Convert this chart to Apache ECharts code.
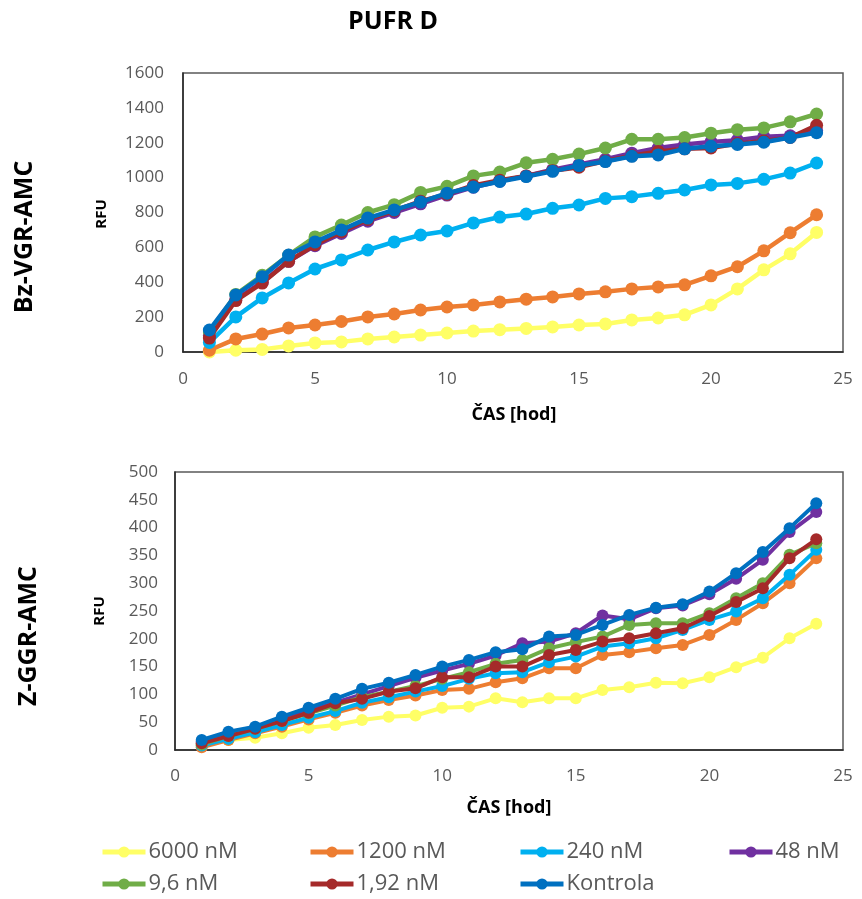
<!DOCTYPE html>
<html>
<head>
<meta charset="utf-8">
<script src="https://cdn.jsdelivr.net/npm/echarts@6/dist/echarts.min.js"></script>
<style>
html,body{margin:0;padding:0;background:#fff;}
#chart{width:862px;height:899px;}
</style>
</head>
<body>
<div id="chart"></div>
<script>
// ---- data ----
var hours = [1,2,3,4,5,6,7,8,9,10,11,12,13,14,15,16,17,18,19,20,21,22,23,24];
var seriesNames = ['6000 nM','1200 nM','240 nM','48 nM','9,6 nM','1,92 nM','Kontrola'];
var seriesColors = ['#FFFF66','#ED7D31','#00B0F0','#7030A0','#70AD47','#A52A2A','#0070C0'];

// Bz-VGR-AMC (top)
var top6000 = [0,10,15,35,52,58,75,86,97,109,120,128,135,144,155,161,184,195,213,270,362,471,563,686];
var top1200 = [10,75,103,138,155,175,201,218,241,258,270,287,303,316,333,345,362,373,385,437,489,580,684,787];
var top240  = [55,201,310,396,476,528,585,631,671,694,740,774,791,824,843,881,891,910,929,958,967,990,1026,1084];
var top48   = [95,300,400,520,610,680,750,800,850,900,945,980,1010,1045,1075,1105,1140,1170,1190,1205,1215,1235,1240,1270];
var top96   = [115,330,440,555,660,728,800,845,915,950,1010,1032,1085,1105,1135,1170,1220,1220,1230,1255,1275,1285,1320,1365];
var top192  = [80,295,395,520,615,690,760,810,865,905,955,985,1010,1040,1060,1095,1125,1150,1165,1170,1195,1210,1230,1300];
var topK    = [126,327,432,556,631,700,768,815,860,911,946,978,1006,1036,1069,1092,1122,1130,1165,1180,1190,1203,1230,1258];

// Z-GGR-AMC (bottom)
var bot6000 = [8,18,22,30,40,45,54,60,62,76,78,93,86,93,93,108,113,121,120,131,149,166,201,227];
var bot1200 = [5,18,30,42,55,67,80,90,98,108,110,122,129,147,147,171,176,183,189,207,234,264,300,345];
var bot240  = [8,20,32,45,58,70,85,95,105,115,128,138,140,158,168,186,192,201,216,234,249,273,315,360];
var bot48   = [15,28,40,55,70,85,100,115,130,143,155,170,192,195,210,242,235,255,260,280,308,342,392,428];
var bot96   = [10,25,38,52,66,80,95,105,115,128,140,155,162,183,194,204,225,228,228,246,273,300,351,372];
var bot192  = [12,25,38,52,67,84,92,105,111,131,131,150,150,171,180,195,201,210,219,241,266,291,345,379];
var botK    = [18,33,42,60,76,92,110,121,135,150,162,176,181,204,207,225,243,256,262,285,318,356,399,444];

var topData = [top6000, top1200, top240, top48, top96, top192, topK];
var botData = [bot6000, bot1200, bot240, bot48, bot96, bot192, botK];

// ---- chart ----
var FONT = 'Open Sans';
var GRAY = '#595959';
function pairs(vals){ return hours.map(function(h,i){ return [h, vals[i]]; }); }

var series = [];
topData.forEach(function(d,i){
  series.push({
    name: seriesNames[i], type:'line', xAxisIndex:0, yAxisIndex:0,
    data: pairs(d), symbol:'circle', symbolSize:13,
    lineStyle:{width:4.5, color:seriesColors[i]},
    itemStyle:{color:seriesColors[i]}, animation:false, z: 2+i
  });
});
botData.forEach(function(d,i){
  series.push({
    name: seriesNames[i], type:'line', xAxisIndex:1, yAxisIndex:1,
    data: pairs(d), symbol:'circle', symbolSize:12,
    lineStyle:{width:4, color:seriesColors[i]},
    itemStyle:{color:seriesColors[i]}, animation:false, z: 2+i
  });
});

var legendLefts = [100,308,518,727,100,308,518];
var legendTops  = [841,841,841,841,873,873,873];
var legends = seriesNames.map(function(n,i){
  return {
    data:[n], left: legendLefts[i], top: legendTops[i], orient:'horizontal',
    itemWidth:43, itemHeight:14, itemGap:4, padding:0,
    lineStyle:{width:5},
    textStyle:{fontFamily:FONT, fontSize:22, color:GRAY, padding:[0,0,0,-2]},
    selectedMode:false
  };
});

function plain(v){ return String(v); }
function xAxisCfg(gridIndex, margin){
  return {
    type:'value', gridIndex:gridIndex, min:0, max:25, interval:5,
    axisLine:{show:true, onZero:false, lineStyle:{color:'#262626', width:1.5}},
    axisTick:{show:false}, splitLine:{show:false},
    axisLabel:{color:GRAY, fontFamily:FONT, fontSize:17, margin:margin, formatter:plain}
  };
}
function yAxisCfg(gridIndex, max, interval, margin){
  return {
    type:'value', gridIndex:gridIndex, min:0, max:max, interval:interval,
    axisLine:{show:true, lineStyle:{color:'#262626', width:1.5}},
    axisTick:{show:false}, splitLine:{show:false},
    axisLabel:{color:GRAY, fontFamily:FONT, fontSize:17, margin:margin, formatter:plain}
  };
}

var chart = echarts.init(document.getElementById('chart'), null, {renderer:'canvas'});
chart.setOption({
  backgroundColor:'#fff',
  animation:false,
  grid:[
    {left:183, top:73, width:660, height:279, show:true, borderColor:'#595959', borderWidth:1.5, backgroundColor:'transparent'},
    {left:175, top:472, width:668, height:278, show:true, borderColor:'#595959', borderWidth:1.5, backgroundColor:'transparent'}
  ],
  xAxis:[xAxisCfg(0,19), xAxisCfg(1,18)],
  yAxis:[yAxisCfg(0,1600,200,19), yAxisCfg(1,500,50,17)],
  legend: legends,
  series: series,
  graphic:[
    {type:'text', x:393, y:22, style:{text:'PUFR D', font:'bold 25px "Open Sans"', fill:'#000', align:'center', verticalAlign:'middle'}},
    {type:'text', x:25, y:237, rotation:Math.PI/2, style:{text:'Bz-VGR-AMC', font:'bold 25px "Open Sans"', fill:'#000', align:'center', verticalAlign:'middle'}},
    {type:'text', x:29, y:636, rotation:Math.PI/2, style:{text:'Z-GGR-AMC', font:'bold 25px "Open Sans"', fill:'#000', align:'center', verticalAlign:'middle'}},
    {type:'text', x:102, y:214, rotation:Math.PI/2, style:{text:'RFU', font:'bold 15px "Open Sans"', fill:'#000', align:'center', verticalAlign:'middle'}},
    {type:'text', x:100, y:611, rotation:Math.PI/2, style:{text:'RFU', font:'bold 15px "Open Sans"', fill:'#000', align:'center', verticalAlign:'middle'}},
    {type:'text', x:514, y:415, style:{text:'ČAS [hod]', font:'bold 18px "Open Sans"', fill:'#000', align:'center', verticalAlign:'middle'}},
    {type:'text', x:509, y:808, style:{text:'ČAS [hod]', font:'bold 18px "Open Sans"', fill:'#000', align:'center', verticalAlign:'middle'}}
  ]
});
</script>
</body>
</html>
